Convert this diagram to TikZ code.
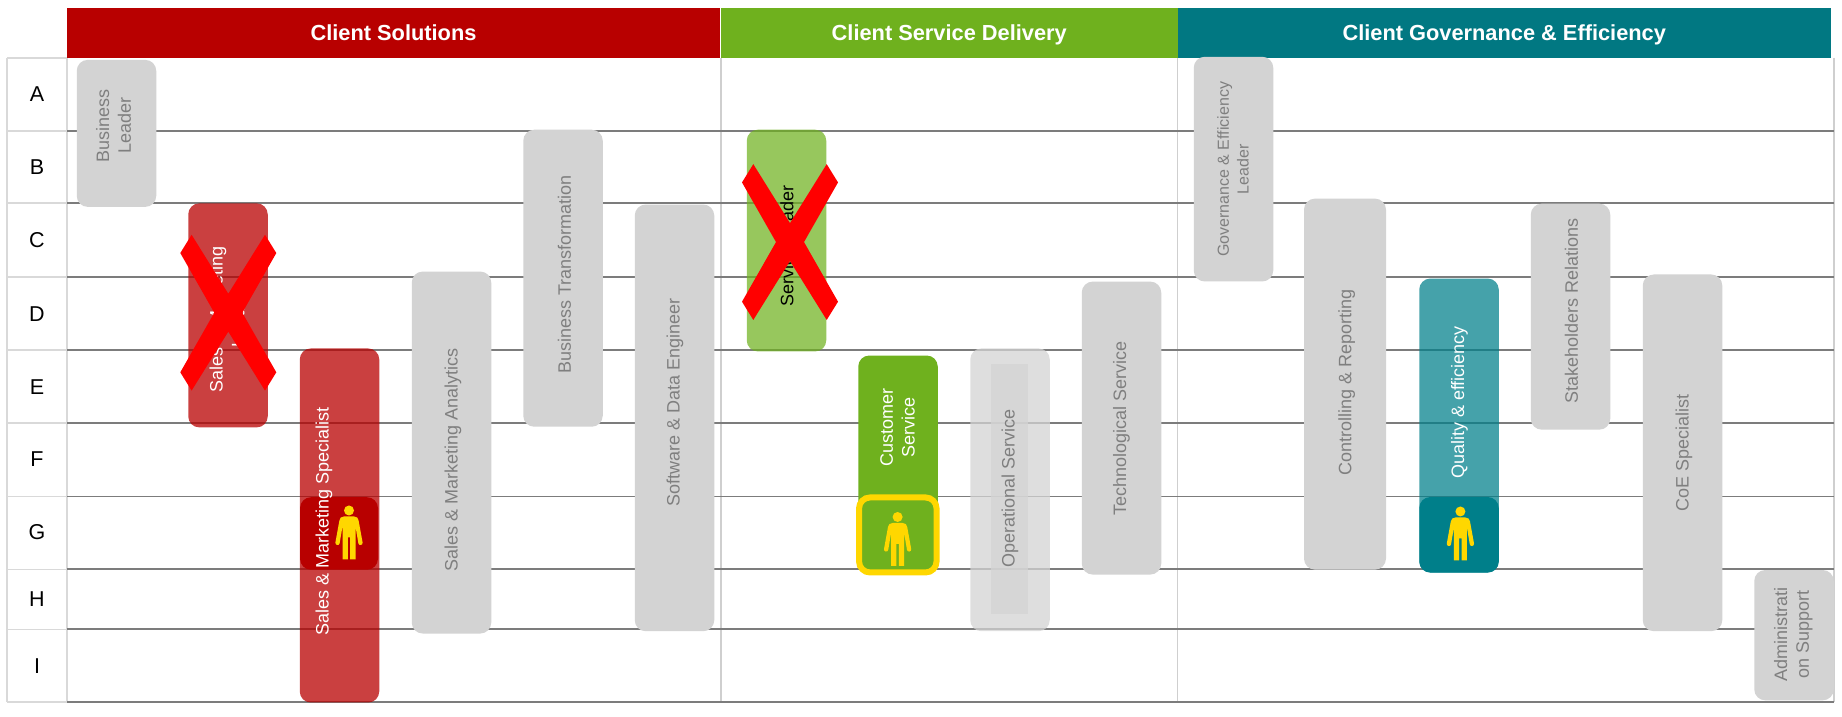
\documentclass[tikz,border=0pt]{standalone}
\usepackage{fontspec}
\setmainfont{Liberation Sans}
\usepackage{tikz}

\definecolor{solred}{HTML}{B80000}
\definecolor{delgreen}{HTML}{6FB11E}
\definecolor{govteal}{HTML}{017882}
\definecolor{cellteal}{HTML}{007F8A}
\definecolor{boxgray}{HTML}{D3D3D3}
\definecolor{textgray}{HTML}{7F7F7F}
\definecolor{gridgray}{HTML}{7C7C7C}
\definecolor{framegray}{HTML}{D9D9D9}
\definecolor{divgray}{HTML}{CFCFCF}
\definecolor{manyellow}{HTML}{FFD700}

\begin{document}
\begin{tikzpicture}[x=1pt,y=-0.999pt,
  header/.style={minimum height=50pt,inner sep=0pt,text height=15.6pt,text depth=0pt,text=white,font=\fontsize{21.8}{26}\selectfont\bfseries},
  rowletter/.style={inner sep=0pt,font=\fontsize{21.5}{26}\selectfont},
  rowline/.style={gridgray,line width=1.9pt},
  frameline/.style={framegray,line width=1.7pt},
  divline/.style={divgray,line width=1.7pt},
  rolebox/.style={rounded corners=11pt,minimum width=79.5pt,inner sep=0pt,fill=boxgray},
  solbox/.style={rolebox,fill=solred,fill opacity=0.75},
  delbox/.style={rolebox,fill=delgreen,fill opacity=0.72},
  govbox/.style={rolebox,fill=cellteal,fill opacity=0.73},
  rolelabel/.style={rotate=90,inner sep=0pt,align=center,text=textgray,font=\fontsize{18}{21.7}\selectfont},
  whitelabel/.style={rolelabel,text=white},
  person/.pic={
    \fill[manyellow] (0,5) circle (5);
    \fill[manyellow,line join=round] (-5,11) -- (5,11) .. controls (8,11) and (9,12.5) .. (9.6,15) -- (13.6,37)
      .. controls (14,40) and (10,40.5) .. (9.4,38) -- (6.5,21) -- (6.5,54) -- (1.2,54) -- (1.2,32) -- (-1.2,32)
      -- (-1.2,54) -- (-6.5,54) -- (-6.5,21) -- (-9.4,38) .. controls (-10,40.5) and (-14,40) .. (-13.6,37)
      -- (-9.6,15) .. controls (-9,12.5) and (-8,11) .. (-5,11) -- cycle;
  },
  crossmark/.pic={
    \fill[red] (-36.7,-78) -- (0,-19) -- (36.7,-78) -- (48,-59.7) -- (14,0) -- (48,59.7) -- (36.7,78)
      -- (0,19) -- (-36.7,78) -- (-48,59.7) -- (-14,0) -- (-48,-59.7) -- cycle;
  }]
  \useasboundingbox (0,0) rectangle (1842,717.2);

  %left column
  \draw[frameline] (7,58) -- (67,58) (7,131) -- (67,131) (7,203.5) -- (67,203.5) (7,277) -- (67,277) (7,350) -- (67,350)
    (7,423.5) -- (67,423.5) (7,497) -- (67,497) (7,570) -- (67,570) (7,630) -- (67,630) (7,703) -- (67,703)
    (7,58) -- (7,703) (67,58) -- (67,703);
  \node[rowletter] (rowa) at (37,94) {A};
  \node[rowletter] (rowb) at (37,167.5) {B};
  \node[rowletter] (rowc) at (37,240) {C};
  \node[rowletter] (rowd) at (37,314) {D};
  \node[rowletter] (rowe) at (37,387) {E};
  \node[rowletter] (rowf) at (37,460) {F};
  \node[rowletter] (rowg) at (37,533) {G};
  \node[rowletter] (rowh) at (37,600) {H};
  \node[rowletter] (rowi) at (37,667) {I};

  %grid
  \draw[divline] (721,58) -- (721,703) (1177.5,58) -- (1177.5,703) (1834,58) -- (1834,703);
  \draw[rowline] (67,131) -- (1834,131) (67,203.5) -- (1834,203.5) (67,277) -- (1834,277) (67,350) -- (1834,350)
    (67,423.5) -- (1834,423.5) (67,497) -- (1834,497) (67,570) -- (1834,570) (67,630) -- (1834,630) (67,703) -- (1834,703);

  %headers
  \node[header,fill=solred,minimum width=653pt] (solutions) at (393.5,33) {Client Solutions};
  \node[header,fill=delgreen,minimum width=456.5pt] (delivery) at (949.25,33) {Client Service Delivery};
  \node[header,fill=govteal,minimum width=653.5pt] (governance) at (1504.25,33) {Client Governance \& Efficiency};

  %client solutions
  \node[rolebox,minimum height=147pt] (busleader) at (116.5,133.5) {};
  \node[rolelabel] (busleadertext) at (113.6,126) {Business\\Leader};
  \node[solbox,minimum height=224pt] (salesleader) at (228,315.7) {};
  \node[whitelabel] (salesleadertext) at (227,320) {Sales \& Marketing\\Leader};
  \pic (salescross) at (228.3,313) {crossmark};
  \node[solbox,minimum height=354pt] (salesspec) at (339.5,526) {};
  \node[rolebox,fill=solred,minimum width=78pt,minimum height=72.5pt] (salescell) at (339,534) {};
  \node[whitelabel] (salesspectext) at (324,522) {Sales \& Marketing Specialist};
  \pic (salesman) at (349,506) {person};
  \node[rolebox,minimum height=362pt] (analytics) at (451.5,453) {};
  \node[rolelabel] (analyticstext) at (453,460) {Sales \& Marketing Analytics};
  \node[rolebox,minimum height=297pt] (transform) at (563,278.5) {};
  \node[rolelabel] (transformtext) at (564.5,275) {Business Transformation};
  \node[rolebox,minimum height=426.7pt] (software) at (674.5,418.3) {};
  \node[rolelabel] (softwaretext) at (675,403) {Software \& Data Engineer};

  %client service delivery
  \node[delbox,minimum height=221.7pt] (serviceleader) at (786.5,240.8) {};
  \node[rolelabel,text=black] (serviceleadertext) at (787,246) {Service Leader};
  \pic (servicecross) at (790,242.3) {crossmark};
  \node[rolebox,fill=delgreen,minimum height=217pt] (customer) at (898,464.5) {};
  \node[whitelabel] (customertext) at (897.6,428) {Customer\\Service};
  \node[rolebox,fill=delgreen,draw=manyellow,line width=6pt,minimum width=77.5pt,minimum height=75pt] (customercell) at (897.8,535.5) {};
  \pic (customerman) at (897.6,512.5) {person};
  \node[rolebox,fill opacity=0.75,minimum height=282.7pt] (operational) at (1010,490.3) {};
  \node[fill=boxgray,fill opacity=0.75,inner sep=0pt,minimum width=37pt,minimum height=250pt] (operationalin) at (1009.5,489) {};
  \node[rolelabel] (operationaltext) at (1010,488.7) {Operational Service};
  \node[rolebox,minimum height=293pt] (technical) at (1121.5,428.5) {};
  \node[rolelabel] (technicaltext) at (1121.5,429) {Technological Service};

  %client governance and efficiency
  \node[rolebox,minimum height=224.7pt] (govleader) at (1233.5,169.3) {};
  \node[rolelabel,font=\fontsize{16}{19.6}\selectfont] (govleadertext) at (1233,169.5) {Governance \& Efficiency\\Leader};
  \node[rolebox,minimum width=82pt,minimum height=371pt] (controlling) at (1345,384.5) {};
  \node[rolelabel] (controllingtext) at (1346.6,383) {Controlling \& Reporting};
  \node[govbox,minimum height=294pt] (quality) at (1459,426) {};
  \node[rolebox,fill=cellteal,minimum height=75.5pt] (qualitycell) at (1459,535.3) {};
  \node[whitelabel] (qualitytext) at (1459.5,403) {Quality \& efficiency};
  \pic (qualityman) at (1460.4,507) {person};
  \node[rolebox,minimum height=226pt] (stakeholders) at (1570.5,317) {};
  \node[rolelabel] (stakeholderstext) at (1571.5,311) {Stakeholders Relations};
  \node[rolebox,minimum height=356.7pt] (coe) at (1682.5,453.3) {};
  \node[rolelabel] (coetext) at (1684,453) {CoE Specialist};
  \node[rolebox,minimum height=130.3pt] (admin) at (1794,635.8) {};
  \node[rolelabel] (admintext) at (1793.4,635.5) {Administrati\\on Support};
\end{tikzpicture}
\end{document}
